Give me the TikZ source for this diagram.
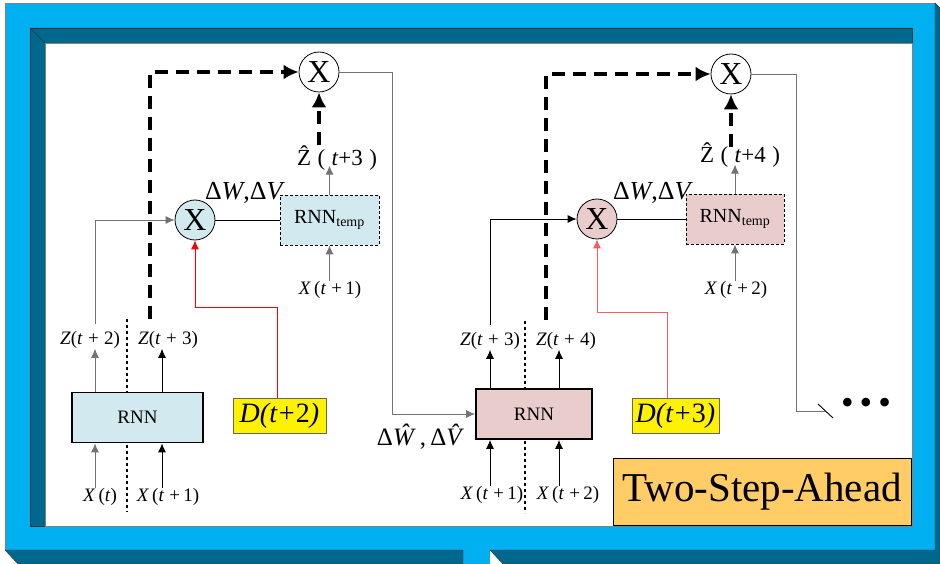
\documentclass[tikz,border=0pt]{standalone}
\usepackage{fontspec}
\setmainfont{Liberation Serif}
\usepackage{xcolor}
\usepackage{tikz}
\usetikzlibrary{calc, arrows.meta, positioning}

\definecolor{khungsang}{RGB}{0,176,240}
\definecolor{khungtoi}{RGB}{0,104,140}
\definecolor{xanhnhat}{RGB}{209,233,239}
\definecolor{hongnhat}{RGB}{233,205,205}
\definecolor{camnhat}{RGB}{255,204,102}
\definecolor{xamday}{RGB}{115,115,115}
\definecolor{doB}{RGB}{240,96,96}
\newcommand{\cochu}[1]{\fontsize{#1}{#1}\selectfont}

\begin{document}
\begin{tikzpicture}[x=1pt, y=-1pt, >={Latex[length=9pt,width=8pt]},
    khoiRNN/.style={draw, line width=1.8pt, minimum height=50pt, inner sep=0pt, font=\cochu{19}},
    khoiTemp/.style={draw, densely dashed, line width=0.8pt, minimum width=99pt, minimum height=50pt, inner sep=0pt, font=\cochu{20}},
    nutX/.style={circle, draw, line width=0.8pt, minimum size=40pt, inner sep=0pt, font=\cochu{32}},
    nhan/.style={inner sep=0pt, font=\cochu{19}},
    khoiD/.style={draw=black!60, fill=yellow, minimum height=35pt, inner sep=0pt, font=\cochu{28}\itshape},
    mui/.style={->, line width=0.9pt},
    netdut/.style={-{Latex[length=15pt,width=15pt]}, line width=3.5pt, dash pattern=on 13pt off 8pt},
    chamcham/.style={line width=2pt, dash pattern=on 3pt off 3pt}]
    \useasboundingbox (0,0) rectangle (940,564);

    % Khung nền
    \fill[khungsang, draw=gray] (5,3) rectangle (935,550);
    \fill[khungsang] (463,549) rectangle (490,564);
    \filldraw[fill=khungtoi, draw=black!80] (935,3) -- (940,8) -- (940,564) -- (503,564)
        -- (490,550) -- (935,550) -- cycle;
    \filldraw[fill=khungtoi, draw=black!80] (5,550) -- (463,550) -- (463,564) -- (18,564) -- cycle;
    \filldraw[fill=khungtoi, draw=black!80] (30,28) -- (912,28) -- (912,43) -- (45,43)
        -- (45,526) -- (30,526) -- cycle;
    \draw[black!80] (30,28) -- (45,43);
    \fill[white, draw=gray] (45,43) rectangle (912,526);

    % Cột tọa độ
    \coordinate (cA1) at (95,0);
    \coordinate (cA2) at (162,0);
    \coordinate (cA3) at (150,0);
    \coordinate (cA4) at (392,0);
    \coordinate (doA) at (277,0);
    \coordinate (cB1) at (490,0);
    \coordinate (cB2) at (559,0);
    \coordinate (cB3) at (546,0);
    \coordinate (cB4) at (796,0);
    \coordinate (doB) at (667,0);

    % Đường chấm phân cách
    \draw[chamcham] (127,319) -- (127,512);
    \draw[chamcham] (525,321) -- (525,513);

    % Phần bên trái
    \node[khoiRNN, fill=xanhnhat, minimum width=131pt] (rnnA) at (137.5,417.5) {RNN};
    \node[nutX, fill=xanhnhat] (mulA) at (195,220) {X};
    \node[nutX, fill=white] (topA) at (319,72) {X};
    \node[khoiTemp, fill=xanhnhat] (tmpA) at (329.5,220) {RNN\textsubscript{temp}};
    \node[khoiD, minimum width=93pt] (dA) at (279.5,415.5) {D(t+\/\textup{2})};
    \node[nhan] (zA2) at (90,340) {\textit{Z}(\textit{t}\;+\;2)};
    \node[nhan] (zA3) at (168,340) {\textit{Z}(\textit{t}\;+\;3)};
    \node[nhan] (xA0) at (100,497) {\textit{X}\,(\textit{t})};
    \node[nhan] (xA1) at (168,497) {\textit{X}\,(\textit{t}\;+\,1)};
    \node[nhan] (xtA) at (330,290) {\textit{X}\,(\textit{t}\;+\,1)};
    \node[nhan, font=\cochu{23}] (zhA) at (337,158) {Ẑ\;(\;\textit{t}+3\;)};
    \node[nhan, font=\cochu{26}] (dwA) at (245,193) {Δ\textit{W},Δ\textit{V}};
    \node[nhan, font=\cochu{25}] (dwB0) at (424,437) {Δ\textit{Ŵ}\,,\,Δ\textit{V̂}};

    \draw[mui, xamday] (rnnA.north -| cA1) -- (zA2.south -| cA1);
    \draw[mui] (rnnA.north -| cA2) -- (zA3.south -| cA2);
    \draw[mui, xamday] (xA0.north -| cA1) -- (rnnA.south -| cA1);
    \draw[mui] (xA1.north -| cA2) -- (rnnA.south -| cA2);
    \draw[mui, xamday, shorten <=7pt] (zA2.north -| cA1) |- (mulA.west);
    \draw[netdut, shorten <=12pt] (zA3.north -| cA3) |- (topA.west);
    \draw[line width=0.9pt] (mulA.east) -- (tmpA.west);
    \draw[mui, xamday] (tmpA.north) -- ++(0,-29);
    \draw[netdut] ($(topA.south)+(0,53)$) -- (topA.south);
    \draw[mui, xamday] (xtA.north -| tmpA.south) -- (tmpA.south);
    \draw[mui, red] (dA.north -| doA) -- ++(0,-90) -| (mulA.south);

    % Phần bên phải
    \node[khoiRNN, fill=hongnhat, minimum width=116pt] (rnnB) at (534,414) {RNN};
    \node[nutX, fill=hongnhat] (mulB) at (597,219) {X};
    \node[nutX, fill=white] (topB) at (731,74) {X};
    \node[khoiTemp, fill=hongnhat, minimum width=98pt] (tmpB) at (735,219) {RNN\textsubscript{temp}};
    \node[khoiD, minimum width=87pt] (dB) at (675.5,415.5) {D(t+\/\textup{3})};
    \node[nhan] (zB3) at (490,341) {\textit{Z}(\textit{t}\;+\;3)};
    \node[nhan] (zB4) at (566,341) {\textit{Z}(\textit{t}\;+\;4)};
    \node[nhan] (xB1) at (492,495) {\textit{X}\,(\textit{t}\;+\,1)};
    \node[nhan] (xB2) at (568,495) {\textit{X}\,(\textit{t}\;+\,2)};
    \node[nhan] (xtB) at (736,290) {\textit{X}\,(\textit{t}\;+\,2)};
    \node[nhan, font=\cochu{23}] (zhB) at (740,155) {Ẑ\;(\;\textit{t}+4\;)};
    \node[nhan, font=\cochu{26}] (dwB) at (653,193) {Δ\textit{W},Δ\textit{V}};

    \draw[mui, xamday] (topA.east) -| (cA4 |- rnnB.west) -- (rnnB.west);
    \draw[mui] (rnnB.north -| cB1) -- (zB3.south -| cB1);
    \draw[mui] (rnnB.north -| cB2) -- (zB4.south -| cB2);
    \draw[mui] (xB1.north -| cB1) -- (rnnB.south -| cB1);
    \draw[mui] (xB2.north -| cB2) -- (rnnB.south -| cB2);
    \draw[mui, shorten <=7pt] (zB3.north -| cB1) |- (mulB.west);
    \draw[netdut, shorten <=12pt] (zB4.north -| cB3) |- (topB.west);
    \draw[line width=0.9pt] (mulB.east) -- (tmpB.west);
    \draw[mui, xamday] (tmpB.north) -- ++(0,-29);
    \draw[netdut] ($(topB.south)+(0,53)$) -- (topB.south);
    \draw[mui, xamday] (xtB.north -| tmpB.south) -- (tmpB.south);
    \draw[mui, doB] (dB.north -| doB) -- ++(0,-85) -| (mulB.south);

    % Nhánh tiếp theo
    \coordinate (ngat) at (825,411);
    \draw[xamday, line width=0.9pt] (topB.east) -| (cB4 |- ngat) -- (ngat);
    \draw[line width=0.9pt] ($(ngat)+(-7,-7)$) -- ++(15,14);
    \node[font=\cochu{36}] (chamB) at (866,406) {•\,•\,•};

    % Nhãn tiêu đề
    \node[draw, fill=camnhat, minimum width=298pt, minimum height=67pt, inner sep=0pt,
        font=\cochu{41}] (tieude) at (762,491.5) {Two-Step-Ahead};
\end{tikzpicture}
\end{document}
